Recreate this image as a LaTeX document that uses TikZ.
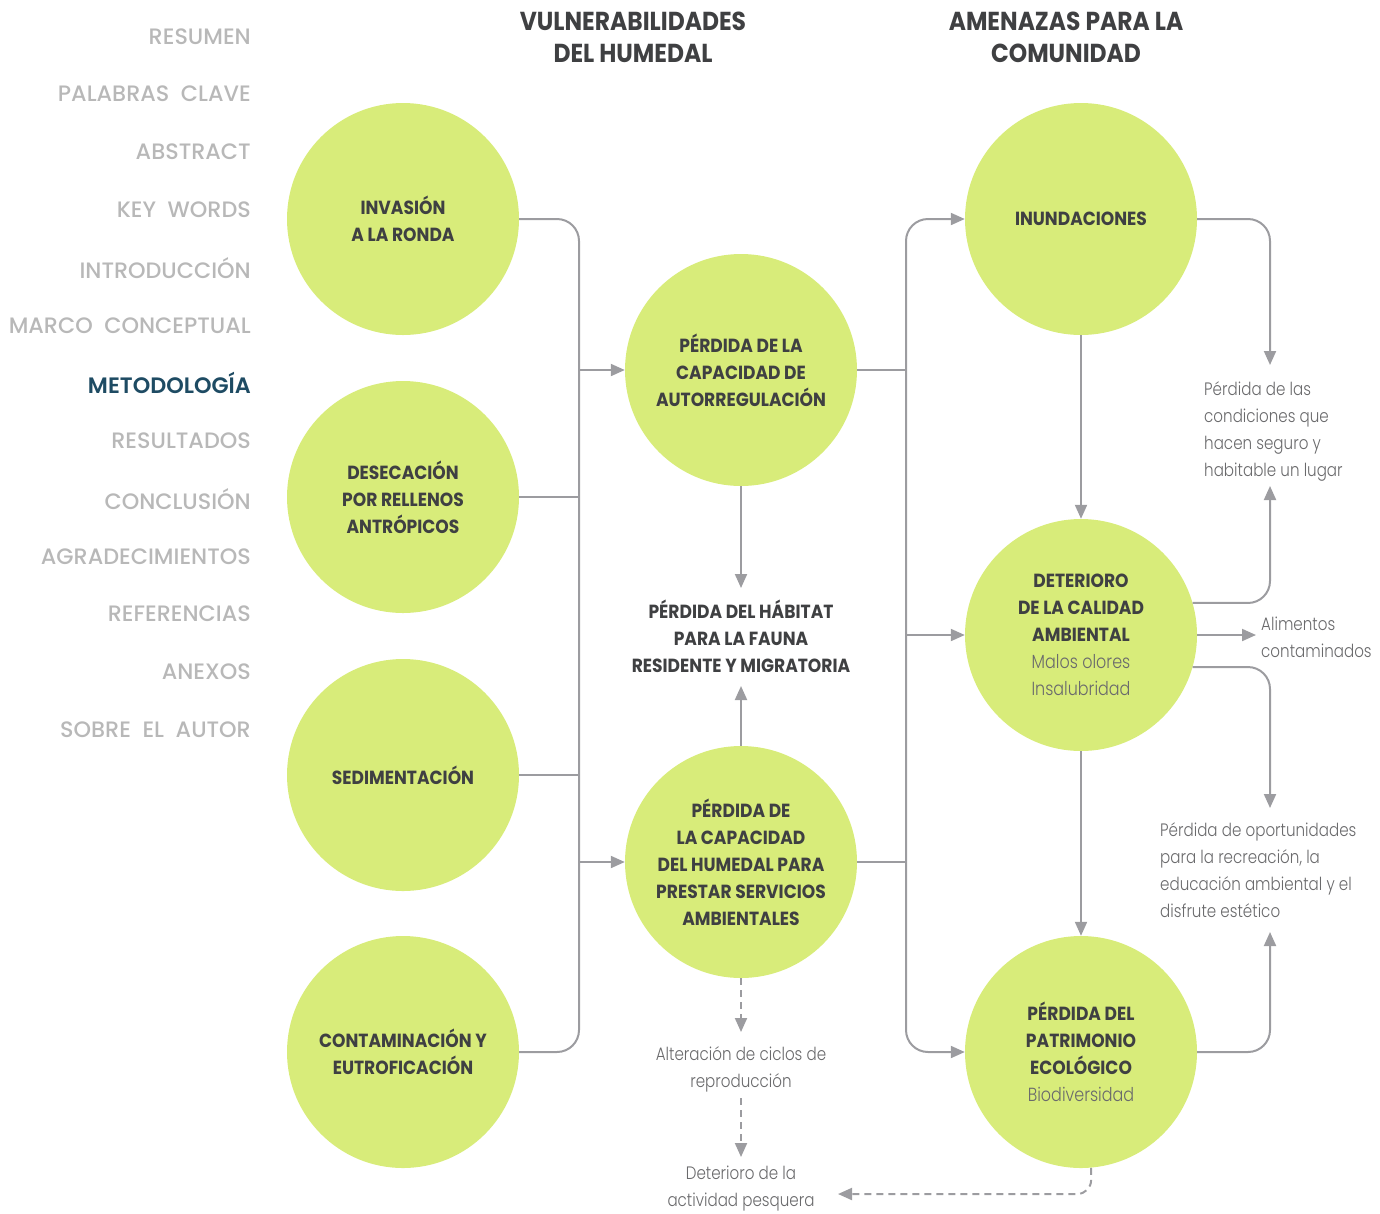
\documentclass[tikz,border=0pt]{standalone}
\usepackage{fontspec}
\usetikzlibrary{arrows.meta}
\setmainfont{Poppins}
\newfontfamily\condbold[FakeStretch=0.90]{Poppins}
\newfontfamily\lightfont[FakeStretch=0.84]{Poppins Light}
\newfontfamily\medfont{Poppins Medium}
\newfontfamily\semifont{Poppins SemiBold}

\definecolor{lime}{HTML}{D8EC7A}
\definecolor{ink}{HTML}{3F4042}
\definecolor{soft}{HTML}{6A6A6C}
\definecolor{wire}{HTML}{9C9CA0}
\definecolor{menugray}{HTML}{B8B8B8}
\definecolor{menuteal}{HTML}{1E4B63}

\tikzset{
  bubble/.style={circle, fill=lime, minimum size=232pt, inner sep=0pt, align=center,
    text=ink, font=\condbold\bfseries\fontsize{19}{27}\selectfont},
  menuitem/.style={anchor=east, text=menugray, inner sep=0pt,
    font=\medfont\fontsize{22.3}{24}\selectfont},
  heading/.style={align=center, text=ink, inner sep=0pt,
    font=\condbold\bfseries\fontsize{26}{32}\selectfont},
  boldlabel/.style={align=center, text=ink, inner sep=0pt,
    font=\condbold\bfseries\fontsize{19}{27}\selectfont},
  note/.style={text=soft, inner sep=0pt, font=\lightfont\fontsize{18}{27}\selectfont},
  conn/.style={draw=wire, line width=2pt, rounded corners=22pt},
  arr/.style={conn, -{Triangle[length=14pt,width=12pt]}},
  darr/.style={arr, dashed, dash pattern=on 7pt off 5pt},
}

\begin{document}
\begin{tikzpicture}[x=1pt, y=-1pt]
\useasboundingbox (0,0) rectangle (1380,1213);

% side menu
\node[menuitem] (mn1)  at (251,37)  {RESUMEN};
\node[menuitem] (mn2)  at (251,94)  {PALABRAS~~CLAVE};
\node[menuitem] (mn3)  at (251,152) {ABSTRACT};
\node[menuitem] (mn4)  at (251,210) {KEY~~WORDS};
\node[menuitem] (mn5)  at (251,268) {INTRODUCCIÓN};
\node[menuitem] (mn6)  at (251,326) {MARCO~~CONCEPTUAL};
\node[menuitem, text=menuteal, font=\semifont\fontsize{22.3}{24}\selectfont] (mn7) at (251,383) {METODOLOGÍA};
\node[menuitem] (mn8)  at (251,441) {RESULTADOS};
\node[menuitem] (mn9)  at (251,499) {CONCLUSIÓN};
\node[menuitem] (mn10) at (251,557) {AGRADECIMIENTOS};
\node[menuitem] (mn11) at (251,614) {REFERENCIAS};
\node[menuitem] (mn12) at (251,672) {ANEXOS};
\node[menuitem] (mn13) at (251,730) {SOBRE~~EL~~AUTOR};

% column headings
\node[heading] (h1) at (633,37) {VULNERABILIDADES\\DEL HUMEDAL};
\node[heading] (h2) at (1066,37) {AMENAZAS PARA LA\\COMUNIDAD};

% causes
\node[bubble] (c1) at (403,219)  {INVASIÓN\\A LA RONDA};
\node[bubble] (c2) at (403,497)  {DESECACIÓN\\POR RELLENOS\\ANTRÓPICOS};
\node[bubble] (c3) at (403,775)  {SEDIMENTACIÓN};
\node[bubble] (c4) at (403,1052) {CONTAMINACIÓN Y\\EUTROFICACIÓN};

% vulnerabilities
\node[bubble] (m1) at (741,370) {PÉRDIDA DE LA\\CAPACIDAD DE\\AUTORREGULACIÓN};
\node[bubble] (m2) at (741,862) {PÉRDIDA DE\\LA CAPACIDAD\\DEL HUMEDAL PARA\\PRESTAR SERVICIOS\\AMBIENTALES};
\node[boldlabel] (hab) at (741,636) {PÉRDIDA DEL HÁBITAT\\PARA LA FAUNA\\RESIDENTE Y MIGRATORIA};

% threats
\node[bubble] (r1) at (1081,219) {INUNDACIONES};
\node[bubble] (r2) at (1081,635) {DETERIORO\\DE LA CALIDAD\\AMBIENTAL\\{\lightfont\mdseries\color{soft}Malos olores}\\{\lightfont\mdseries\color{soft}Insalubridad}};
\node[bubble] (r3) at (1081,1052) {PÉRDIDA DEL\\PATRIMONIO\\ECOLÓGICO\\{\lightfont\mdseries\color{soft}Biodiversidad}};

% consequences
\node[note, anchor=north west, align=left] (t1) at (1204,381) {Pérdida de las\\condiciones que\\hacen seguro y\\habitable un lugar};
\node[note, anchor=west, align=left] (t2) at (1261,637) {Alimentos\\contaminados};
\node[note, anchor=north west, align=left] (t3) at (1160,822) {Pérdida de oportunidades\\para la recreación, la\\educación ambiental y el\\disfrute estético};
\node[note, align=center] (t4) at (741,1069) {Alteración de ciclos de\\reproducción};
\node[note, align=center] (t5) at (741,1189) {Deterioro de la\\actividad pesquera};

% bus coordinates
\coordinate (bL) at (579,0);
\coordinate (bR) at (906,0);
\coordinate (tipA) at (1270,365);
\coordinate (tipB) at (1270,486);
\coordinate (tipC) at (1256,635);
\coordinate (tipD) at (1270,808);
\coordinate (tipE) at (1270,932);
\coordinate (tipF) at (838,1194);
\coordinate (tipG) at (741,1032);
\coordinate (srcG) at (741,1098);
\coordinate (tipH) at (741,1157);
\coordinate (tipI) at (741,588);
\coordinate (tipJ) at (741,686);

% causes into the left bus
\draw[conn] (c1.east) -| (bL|-c4.east) -- (c4.east);
\draw[conn] (c2.east) -- (bL|-c2.east);
\draw[conn] (c3.east) -- (bL|-c3.east);
\draw[arr] (bL|-m1.west) -- (m1.west);
\draw[arr] (bL|-m2.west) -- (m2.west);

% vulnerabilities into the right bus
\draw[conn] (m1.east) -- (bR|-m1.east);
\draw[conn] (m2.east) -- (bR|-m2.east);
\draw[arr] (bR|-r2.west) |- (r1.west);
\draw[arr] (bR|-r2.west) |- (r3.west);
\draw[arr] (bR|-r2.west) -- (r2.west);

% habitat loss
\draw[arr] (m1.south) -- (tipI);
\draw[arr] (m2.north) -- (tipJ);

% threats chain
\draw[arr] (r1.south) -- (r2.north);
\draw[arr] (r2.south) -- (r3.north);

% consequences on the right
\draw[arr] (r1.east) -| (tipA);
\draw[arr] (r2.16) -| (tipB);
\draw[arr] (r2.east) -- (tipC);
\draw[arr] (r2.-16) -| (tipD);
\draw[arr] (r3.east) -| (tipE);

% dashed effects
\draw[darr, rounded corners=0pt] (m2.south) -- (tipG);
\draw[darr, rounded corners=0pt] (srcG) -- (tipH);
\draw[darr, rounded corners=14pt] (r3.-85) |- (tipF);

\end{tikzpicture}
\end{document}
